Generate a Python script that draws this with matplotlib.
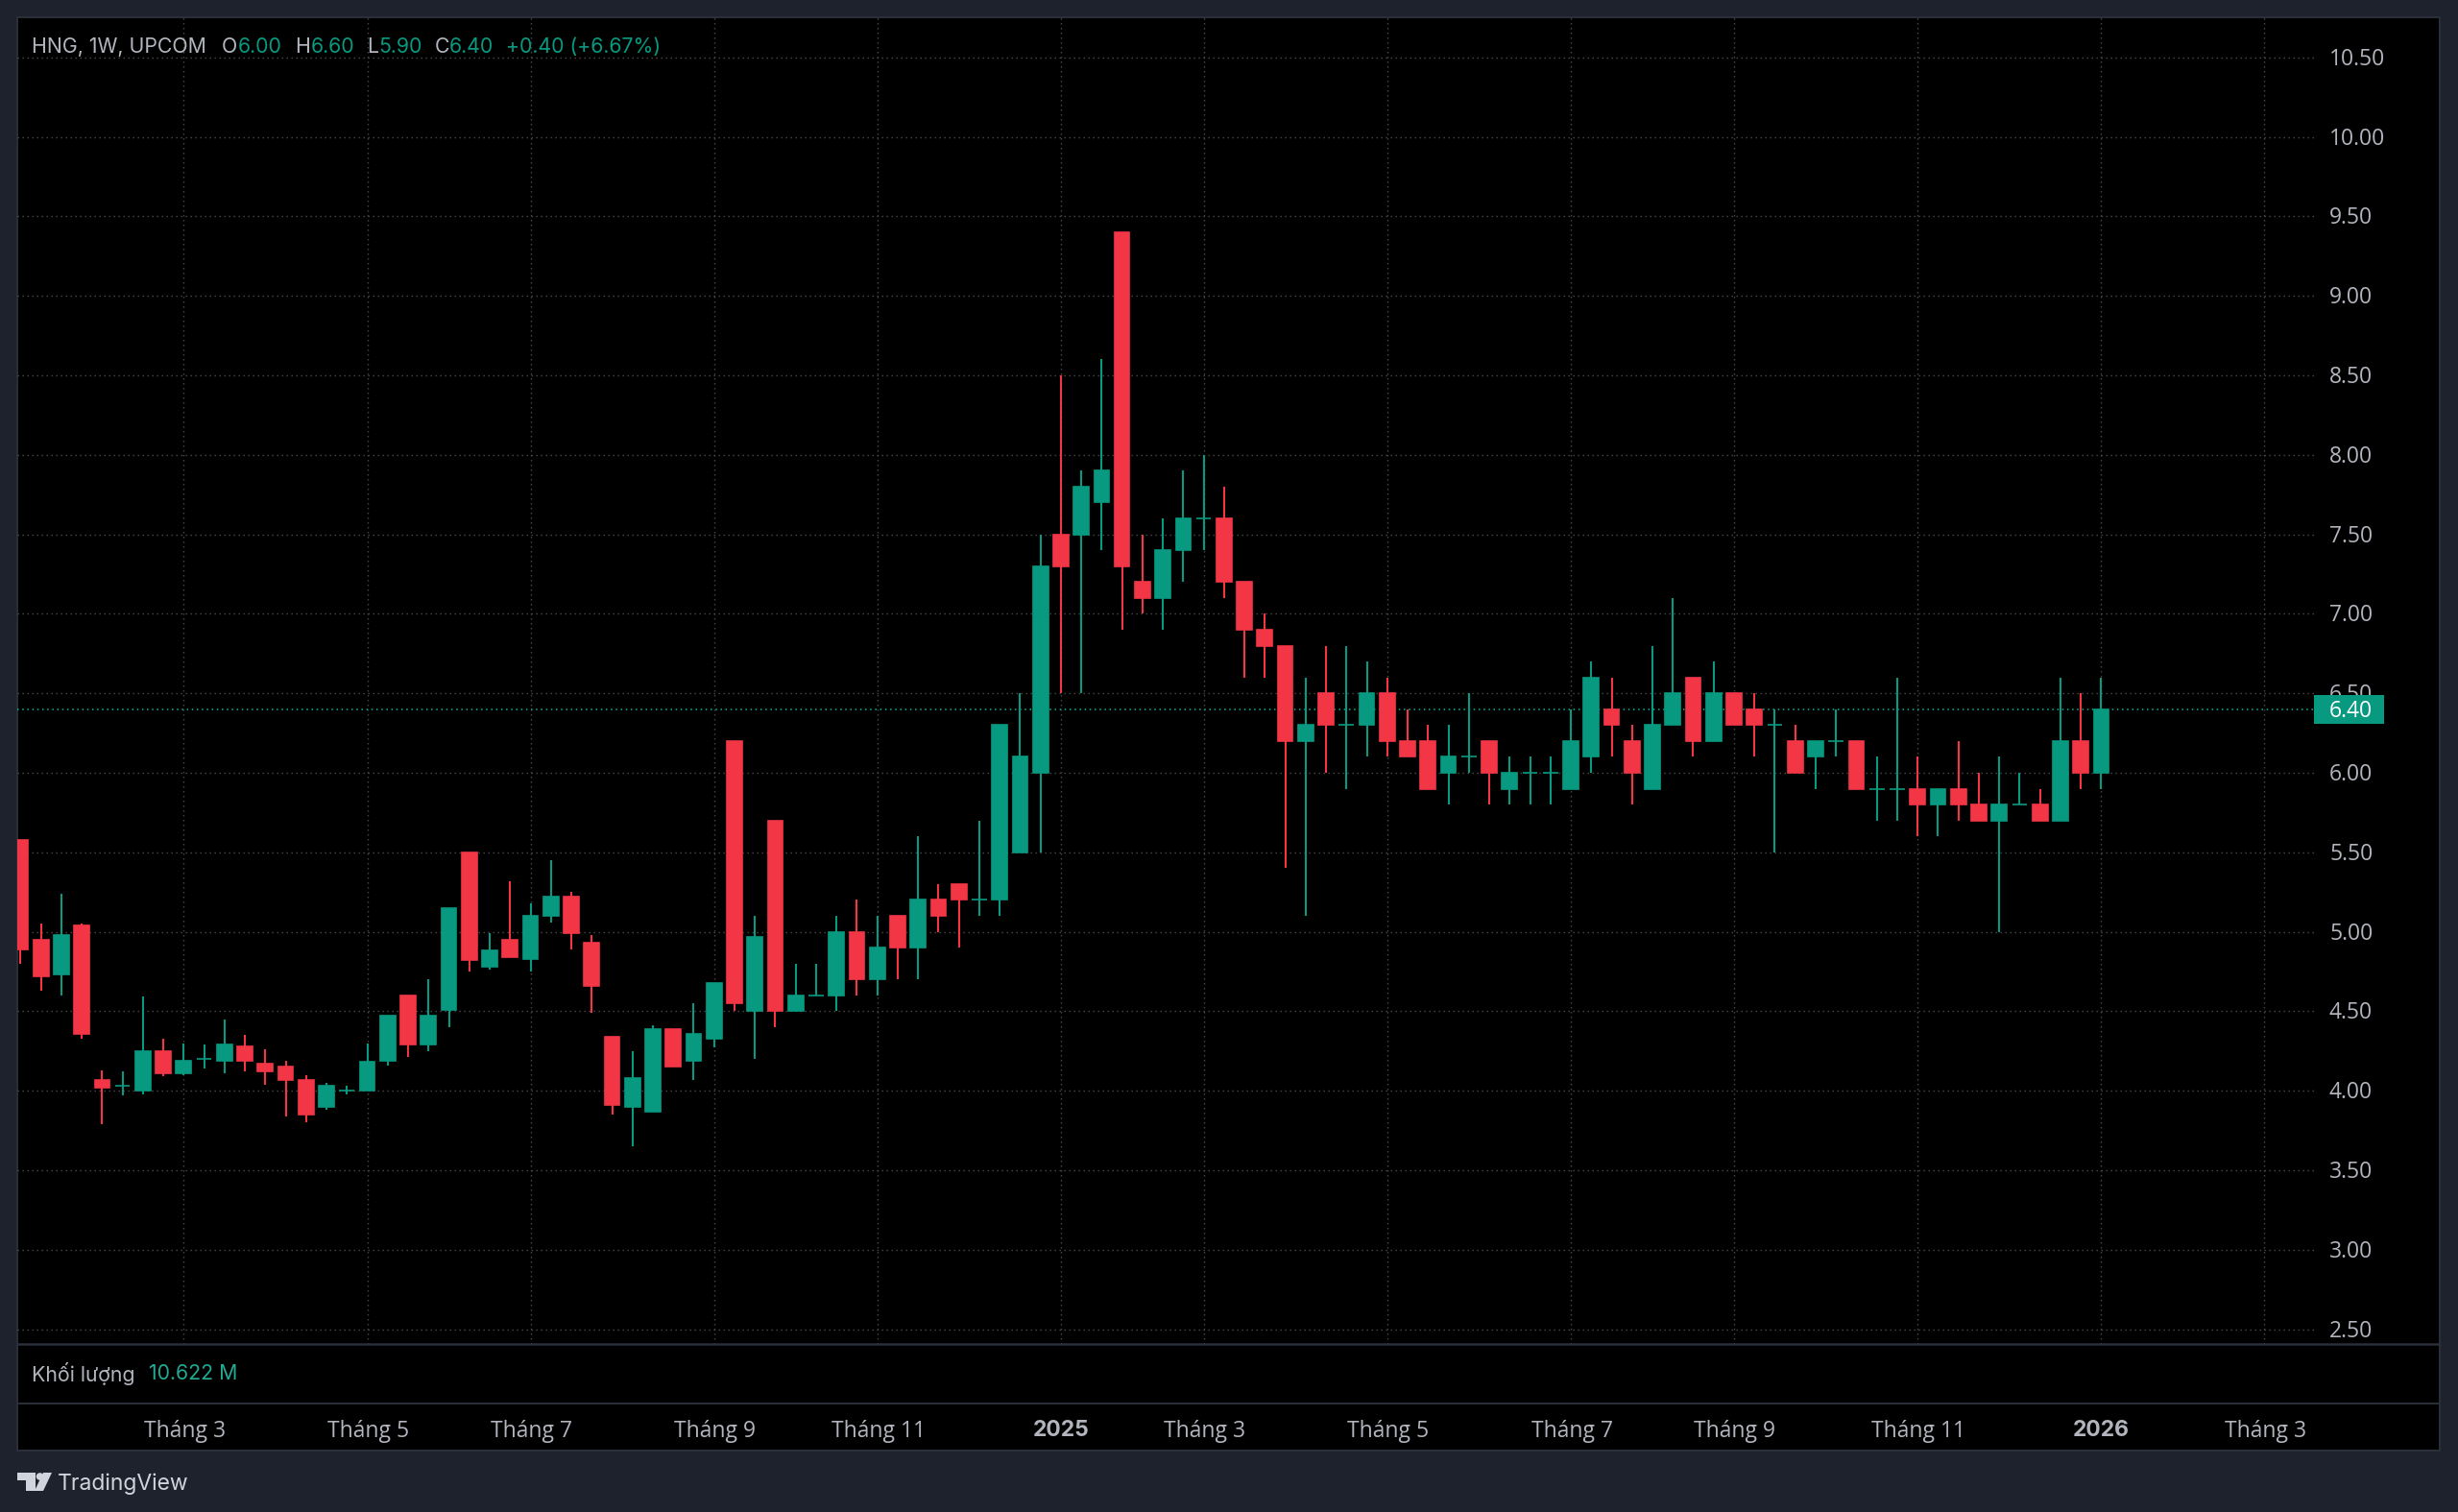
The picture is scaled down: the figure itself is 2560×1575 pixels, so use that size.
import matplotlib
matplotlib.use("Agg")
import numpy as np
from matplotlib import pyplot as plt
from matplotlib.patches import Rectangle, Polygon, Circle

plt.rcParams['font.family'] = ['Inter', 'DejaVu Sans']

W, H = 2560, 1575
UP = "#089981"
DOWN = "#F23645"
FRAME = "#1E222D"
BORDER = "#2A2E39"
TXT = "#B2B5BE"
GRID = "#4C4C4C"

# weekly candles
opens = [5.58, 4.95, 4.73, 5.04, 4.07, 4.03, 4.00, 4.25, 4.11, 4.20,
         4.19, 4.28, 4.17, 4.15, 4.07, 3.90, 4.00, 4.00, 4.19, 4.60,
         4.29, 4.51, 5.50, 4.78, 4.95, 4.83, 5.10, 5.22, 4.93, 4.34,
         3.90, 3.87, 4.39, 4.19, 4.33, 6.20, 4.50, 5.70, 4.50, 4.60,
         4.60, 5.00, 4.70, 5.10, 4.90, 5.20, 5.30, 5.20, 5.20, 5.50,
         6.00, 7.50, 7.50, 7.70, 9.40, 7.20, 7.10, 7.40, 7.60, 7.60,
         7.20, 6.90, 6.80, 6.20, 6.50, 6.30, 6.30, 6.50, 6.20, 6.20,
         6.00, 6.10, 6.20, 5.90, 6.00, 6.00, 5.90, 6.10, 6.40, 6.20,
         5.90, 6.30, 6.60, 6.20, 6.50, 6.40, 6.30, 6.20, 6.10, 6.20,
         6.20, 5.90, 5.90, 5.90, 5.80, 5.90, 5.80, 5.70, 5.80, 5.80,
         5.70, 6.20, 6.00]
highs = [5.58, 5.05, 5.24, 5.05, 4.13, 4.12, 4.59, 4.33, 4.30, 4.29,
         4.45, 4.35, 4.26, 4.19, 4.10, 4.05, 4.03, 4.30, 4.47, 4.60,
         4.70, 5.15, 5.50, 4.99, 5.32, 5.18, 5.45, 5.25, 4.98, 4.34,
         4.25, 4.41, 4.39, 4.55, 4.68, 6.20, 5.10, 5.70, 4.80, 4.80,
         5.10, 5.20, 5.10, 5.10, 5.60, 5.30, 5.30, 5.70, 6.30, 6.50,
         7.50, 8.50, 7.90, 8.60, 9.40, 7.50, 7.60, 7.90, 8.00, 7.80,
         7.20, 7.00, 6.80, 6.60, 6.80, 6.80, 6.70, 6.60, 6.40, 6.30,
         6.30, 6.50, 6.20, 6.10, 6.10, 6.10, 6.40, 6.70, 6.60, 6.30,
         6.80, 7.10, 6.60, 6.70, 6.50, 6.50, 6.40, 6.30, 6.20, 6.40,
         6.20, 6.10, 6.60, 6.10, 5.90, 6.20, 6.00, 6.10, 6.00, 5.90,
         6.60, 6.50, 6.60]
lows = [4.80, 4.63, 4.60, 4.33, 3.79, 3.97, 3.98, 4.09, 4.10, 4.14,
        4.11, 4.12, 4.04, 3.84, 3.80, 3.88, 3.98, 4.00, 4.16, 4.21,
        4.25, 4.40, 4.75, 4.76, 4.84, 4.75, 5.06, 4.89, 4.49, 3.85,
        3.65, 3.87, 4.15, 4.07, 4.27, 4.50, 4.20, 4.40, 4.50, 4.60,
        4.50, 4.60, 4.60, 4.70, 4.70, 5.00, 4.90, 5.10, 5.10, 5.50,
        5.50, 6.50, 6.50, 7.40, 6.90, 7.00, 6.90, 7.20, 7.40, 7.10,
        6.60, 6.60, 5.40, 5.10, 6.00, 5.90, 6.10, 6.10, 6.10, 5.90,
        5.80, 6.00, 5.80, 5.80, 5.80, 5.80, 5.90, 6.00, 6.10, 5.80,
        5.90, 6.30, 6.10, 6.20, 6.30, 6.10, 5.50, 6.00, 5.90, 6.10,
        5.90, 5.70, 5.70, 5.60, 5.60, 5.70, 5.70, 5.00, 5.80, 5.70,
        5.70, 5.90, 5.90]
closes = [4.89, 4.72, 4.98, 4.36, 4.02, 4.03, 4.25, 4.11, 4.19, 4.20,
          4.29, 4.19, 4.12, 4.07, 3.85, 4.03, 4.00, 4.18, 4.47, 4.29,
          4.47, 5.15, 4.82, 4.88, 4.84, 5.10, 5.22, 4.99, 4.66, 3.91,
          4.08, 4.39, 4.15, 4.36, 4.68, 4.55, 4.97, 4.50, 4.60, 4.60,
          5.00, 4.70, 4.90, 4.90, 5.20, 5.10, 5.20, 5.20, 6.30, 6.10,
          7.30, 7.30, 7.80, 7.90, 7.30, 7.10, 7.40, 7.60, 7.60, 7.20,
          6.90, 6.80, 6.20, 6.30, 6.30, 6.30, 6.50, 6.20, 6.10, 5.90,
          6.10, 6.10, 6.00, 6.00, 6.00, 6.00, 6.20, 6.60, 6.30, 6.00,
          6.30, 6.50, 6.20, 6.50, 6.30, 6.30, 6.30, 6.00, 6.20, 6.20,
          5.90, 5.90, 5.90, 5.80, 5.90, 5.80, 5.70, 5.80, 5.80, 5.70,
          6.20, 6.00, 6.40]

price_ticks = [2.5, 3.0, 3.5, 4.0, 4.5, 5.0, 5.5, 6.0, 6.5, 7.0, 7.5, 8.0, 8.5, 9.0, 9.5, 10.0, 10.5]
month_pos = [8, 17, 25, 34, 42, 51, 58, 67, 76, 84, 93, 102, 110]
month_names = ["Tháng 3", "Tháng 5", "Tháng 7", "Tháng 9", "Tháng 11", "2025", "Tháng 3",
               "Tháng 5", "Tháng 7", "Tháng 9", "Tháng 11", "2026", "Tháng 3"]
last_price = 6.40

Y0 = 1384.6  # pixel row of 2.50

fig = plt.figure(figsize=(W / 100, H / 100), dpi=100, facecolor=FRAME)

# overlay in pixels for frame and text, y goes down
fr = fig.add_axes([0, 0, 1, 1], zorder=1)
fr.set_xlim(0, W)
fr.set_ylim(H, 0)
fr.axis("off")
fr.add_patch(Rectangle((18, 18), 2523, 1493, fc="black", ec=BORDER, lw=1.5))

# main pane, x index to pixel = 21.4 + 21.245 i
left, right, top, bottom = 18, 2411, 18, 1400
ax = fig.add_axes([left / W, 1 - bottom / H, (right - left) / W, (bottom - top) / H], zorder=2)
ax.patch.set_alpha(0)
px_x = lambda p: (p - 21.4) / 21.245
px_y = lambda p: 2.5 + (Y0 - p) / 165.6
ax.set_xlim(px_x(left), px_x(right))
ax.set_ylim(px_y(bottom), px_y(top))
for s in ax.spines.values():
    s.set_visible(False)
ax.set_xticks(month_pos)
ax.set_yticks(price_ticks)
ax.tick_params(length=0, labelbottom=False, labelleft=False)
ax.grid(True, color=GRID, lw=1.0, linestyle=(0, (1, 2.6)), zorder=0)
ax.set_axisbelow(True)
ax.axhline(last_price, color="#0CB59A", lw=1.1, linestyle=(0, (1, 2.4)), zorder=1)

o = np.array(opens)
h = np.array(highs)
l = np.array(lows)
c = np.array(closes)
x = np.arange(len(o))
colors = [UP if c[i] >= o[i] else DOWN for i in x]
ax.vlines(x, l, h, colors=colors, lw=1.5, zorder=2)
ax.bar(x, np.abs(c - o), bottom=np.minimum(o, c), width=0.74, color=colors,
       edgecolor=colors, lw=1.2, zorder=3)

# price labels
for p in price_ticks:
    y = Y0 - (p - 2.5) * 165.6
    fr.text(2426, y + 2, "%.2f" % p, color=TXT, fontsize=16.5, family="Open Sans", ha="left", va="center")

# last price tag
y_last = Y0 - (last_price - 2.5) * 165.6
ov = fig.add_axes([0, 0, 1, 1], zorder=3)
ov.set_xlim(0, W)
ov.set_ylim(H, 0)
ov.axis("off")
ov.add_patch(Rectangle((2410, y_last - 15), 73, 30, fc=UP, ec="none"))
ov.text(2426, y_last + 2, "%.2f" % last_price, color="white", fontsize=16.5, family="Open Sans", ha="left", va="center")

# pane separators
ov.plot([18, 2541], [1400, 1400], color=BORDER, lw=1.8)
ov.plot([18, 2541], [1462, 1462], color=BORDER, lw=1.5)

# time axis labels
for p, name in zip(month_pos, month_names):
    xp = 21.4 + 21.245 * p
    if name.startswith("20"):
        ov.text(xp, 1490, name, color=TXT, fontsize=16.5, fontweight="bold", ha="center", va="center")
    else:
        ov.text(xp + 1, 1491, name, color=TXT, fontsize=16.5, family="Open Sans", ha="center", va="center")

# legend line
for xp, s, col in [(33, "HNG, 1W, UPCOM", TXT), (231, "O", TXT), (248, "6.00", UP),
                   (307, "H", TXT), (324, "6.60", UP), (382, "L", TXT), (394, "5.90", UP),
                   (453, "C", TXT), (468, "6.40", UP), (527, "+0.40 (+6.67%)", UP)]:
    ov.text(xp, 49, s, color=col, fontsize=15.3, ha="left", va="center")

ov.text(33, 1431, "Khối lượng", color=TXT, fontsize=15.3, ha="left", va="center")
ov.text(155, 1431, "10.622 M", color="#22AB94", fontsize=15.3, ha="left", va="center")

# TradingView mark
ov.add_patch(Polygon([(18, 1534), (37, 1534), (37, 1553), (27, 1553), (27, 1542), (18, 1542)], fc="#D1D4DC", ec="none"))
ov.add_patch(Circle((41.5, 1538), 3.8, fc="#D1D4DC", ec="none"))
ov.add_patch(Polygon([(45, 1534), (54, 1534), (45, 1553), (36, 1553)], fc="#D1D4DC", ec="none"))
ov.text(60, 1546, "TradingView", color="#D1D4DC", fontsize=16.5, ha="left", va="center")

fig.savefig("out.png", dpi=100, facecolor=FRAME)
